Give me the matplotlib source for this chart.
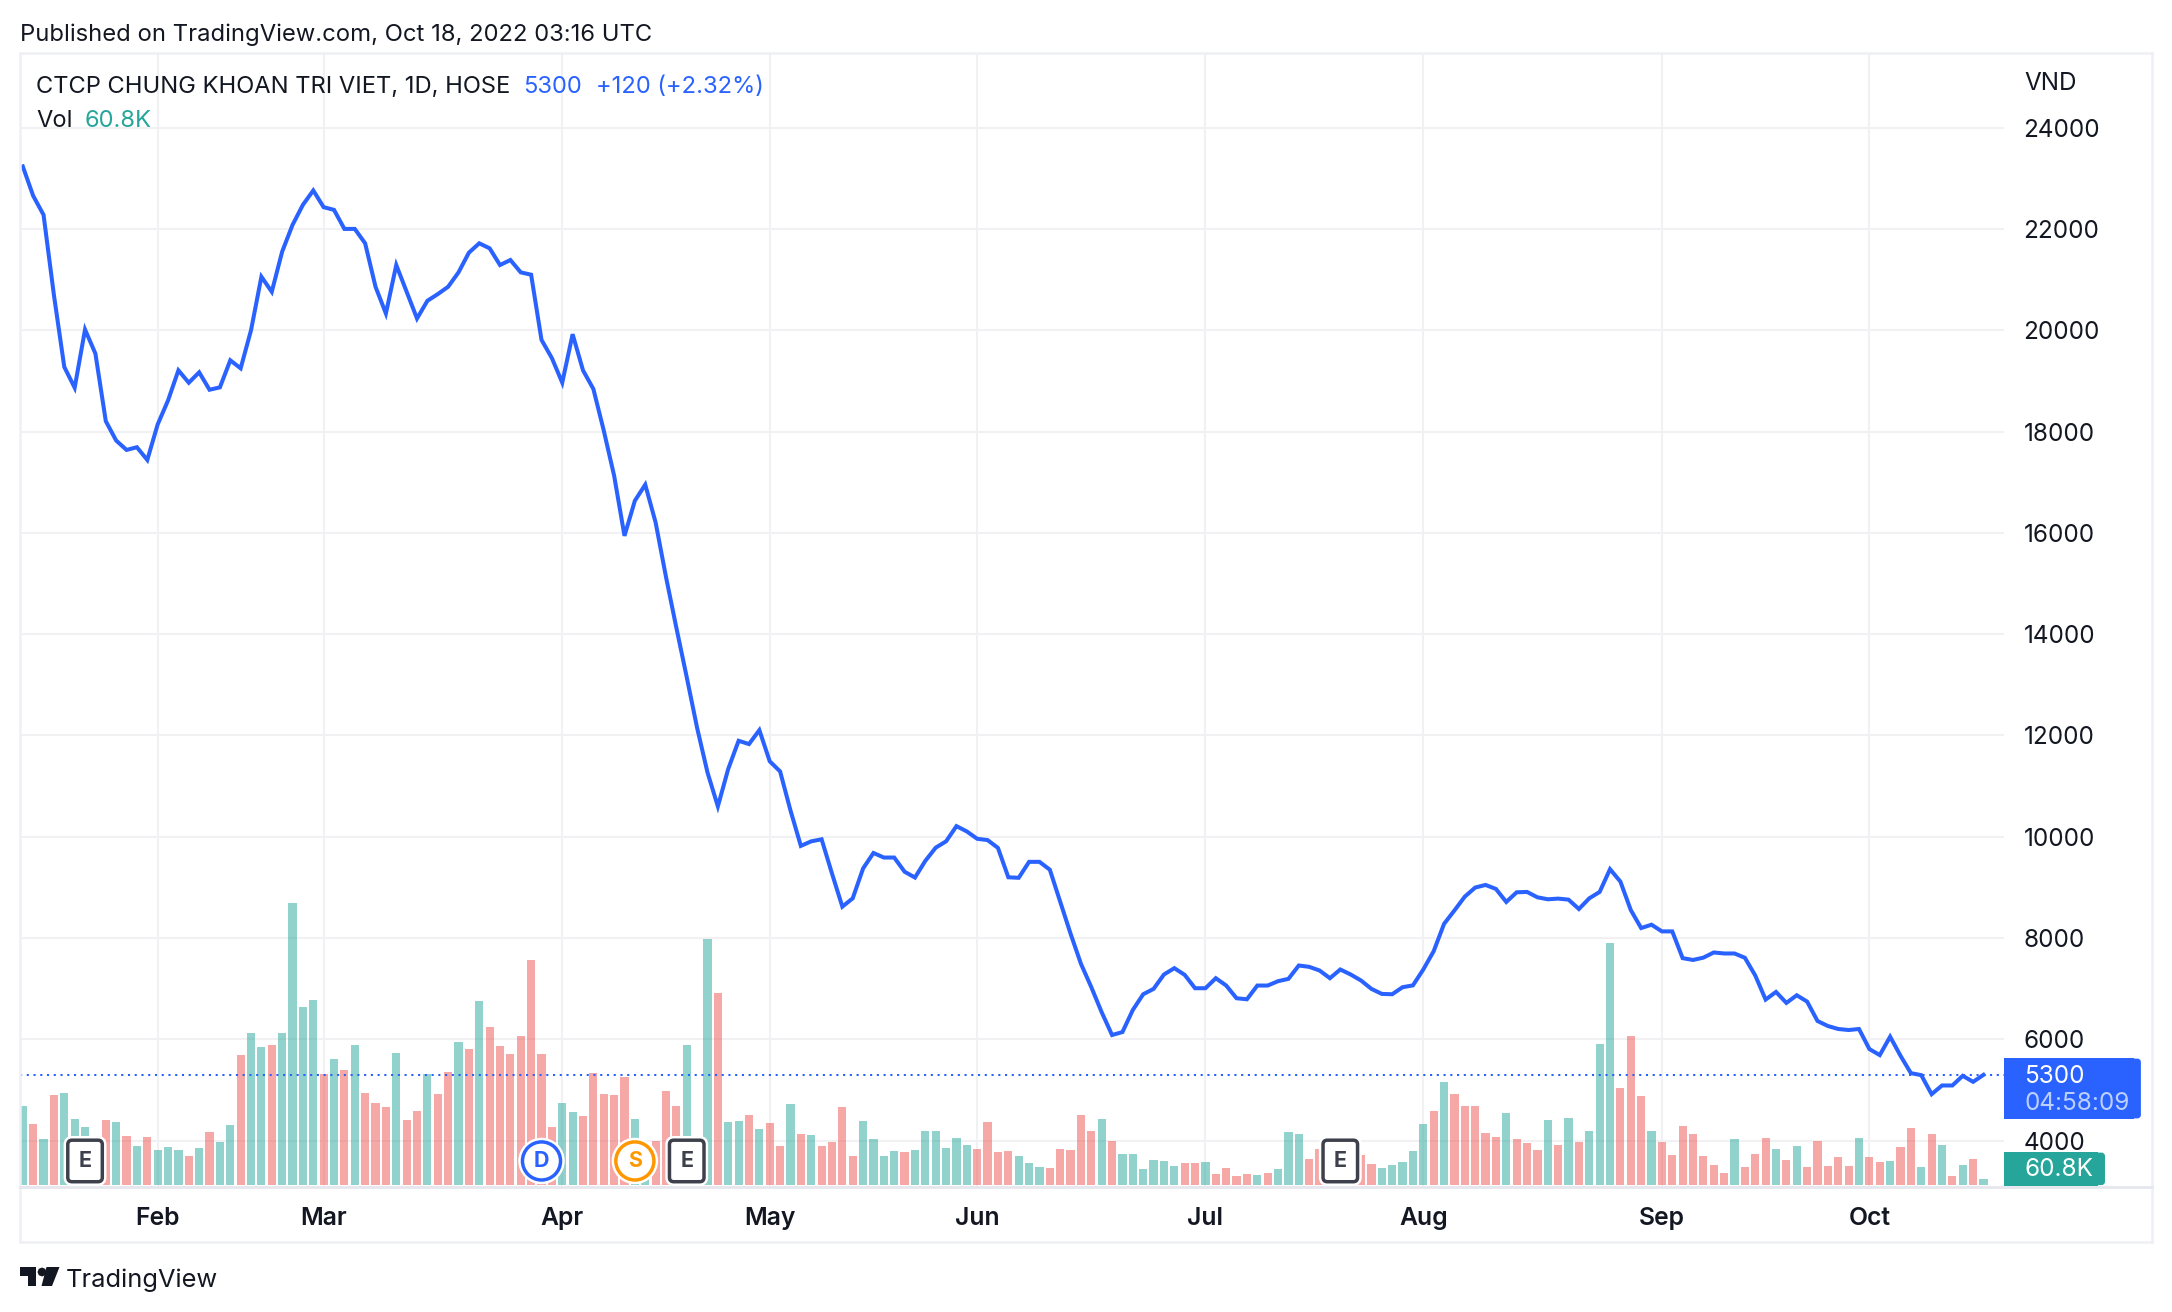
import matplotlib
matplotlib.use("Agg")
import matplotlib.pyplot as plt
from matplotlib.patches import FancyBboxPatch, Rectangle, Polygon
from matplotlib.lines import Line2D
import matplotlib.patheffects as pe

plt.rcParams['font.family'] = ['Inter', 'DejaVu Sans']

close = [23234,22653,22277,20693,19274,18865,20013,19538,18205,17822,17637,17690,17439,18140,18614,
         19208,18964,19169,18825,18872,19406,19248,20000,21056,20759,21551,22079,22475,22759,22429,
         22376,22000,22000,21716,20858,20330,21287,20759,20231,20581,20713,20858,21142,21531,21716,
         21617,21287,21386,21142,21096,19810,19450,18965,19921,19208,18840,18020,17129,15941,16634,
         16951,16205,15129,14126,13150,12150,11270,10600,11340,11895,11830,12105,11490,11290,10520,
         9820,9910,9950,9275,8620,8785,9375,9680,9590,9590,9310,9195,9525,9785,9910,
         10210,10105,9960,9935,9780,9200,9190,9505,9505,9350,8720,8086,7492,7030,6535,
         6086,6145,6581,6891,6997,7281,7406,7274,7010,7010,7208,7063,6812,6792,7063,
         7063,7149,7195,7459,7432,7360,7208,7380,7281,7162,6997,6898,6891,7030,7066,
         7380,7740,8280,8545,8818,8997,9049,8970,8713,8904,8911,8805,8766,8779,8759,
         8574,8785,8911,9360,9115,8554,8198,8264,8132,8132,7604,7568,7614,7716,7696,
         7696,7611,7261,6786,6937,6720,6871,6746,6363,6264,6205,6185,6205,5809,5690,
         6053,5677,5334,5294,4918,5090,5090,5281,5162,5300]

volume_k = [801,619,466,913,933,669,588,237,659,639,497,395,487,355,385,355,294,375,537,436,
            608,1318,1541,1399,1420,1541,2859,1805,1876,1126,1278,1166,1420,933,831,791,1338,659,750,1126,
            923,1146,1450,1379,1866,1602,1409,1328,1511,2282,1328,588,831,740,700,1136,923,913,1095,669,
            338,446,953,801,1420,203,2494,1947,639,649,710,568,629,395,821,517,507,395,436,791,
            294,649,466,294,345,335,355,548,548,375,477,406,365,639,335,345,294,223,183,172,
            365,355,710,548,669,446,314,314,162,254,243,193,223,223,233,112,172,91,112,101,
            122,162,537,517,264,365,203,135,169,304,213,172,203,233,345,619,750,1044,923,801,
            801,527,487,730,466,426,355,659,406,679,436,548,1430,2454,984,1511,902,548,436,304,
            598,517,294,203,122,466,183,314,477,365,254,395,183,446,193,284,193,477,284,233,
            243,385,578,183,517,406,91,203,264,60.8]

vol_dir = ['G','R','G','R','G','G','G','R','R','G','R','G','R','G','G','G','R','G','R','G',
           'G','R','G','G','R','G','G','G','G','R','G','R','G','R','R','R','G','R','R','G',
           'R','R','G','R','G','R','R','R','R','R','R','R','G','G','R','R','R','R','R','G',
           'G','R','R','R','G','G','G','R','G','G','R','G','R','R','G','R','G','R','R','R',
           'R','G','G','G','G','R','G','G','G','G','G','G','R','R','R','R','G','G','G','R',
           'R','R','R','R','G','R','G','G','G','G','G','G','R','R','G','R','R','R','R','G',
           'R','G','G','G','R','R','R','G','R','R','R','G','G','G','G','G','R','G','R','R',
           'R','R','R','G','R','R','R','G','R','G','R','G','G','G','R','R','R','G','R','R',
           'R','R','R','R','R','G','R','R','R','G','R','G','R','R','R','R','R','G','R','R',
           'G','R','R','G','R','G','R','G','R','G']

months = ["Feb", "Mar", "Apr", "May", "Jun", "Jul", "Aug", "Sep", "Oct"]
month_idx = [13, 29, 52, 72, 92, 114, 135, 158, 178]
price_ticks = [4000, 6000, 8000, 10000, 12000, 14000, 16000, 18000, 20000, 22000, 24000]
events = [(6, "E"), (50, "D"), (59, "S"), (64, "E"), (127, "E")]
last_price = 5300

W, H = 2172, 1312
fig = plt.figure(figsize=(W / 100, H / 100), dpi=100, facecolor='white')

def fx(x): return x / W
def fy(y): return 1 - y / H

L, R, T, B = 19.5, 2004.0, 53.0, 1186.0
rect = [fx(L), fy(B), fx(R - L), (B - T) / H]
step = 10.374
x0 = 22.8
xlim = ((L - x0) / step, (R - x0) / step)
per_px = 2000 / 101.3
ylim = (4000 - (B - 1140.7) * per_px, 24000 + (127.6 - T) * per_px)
vk = 60.8 / 6
vlim = (-(B - 1185) * vk, (1185 - T) * vk)

ax_g = fig.add_axes(rect, zorder=0)
ax_v = fig.add_axes(rect, zorder=1, sharex=ax_g)
ax = fig.add_axes(rect, zorder=2, sharex=ax_g)

grid_c = '#f1f1f4'
ax_g.set_xlim(*xlim)
ax_g.set_ylim(*ylim)
ax_g.set_yticks(price_ticks)
ax_g.set_yticklabels([str(p) for p in price_ticks], fontsize=17.5, color='#131722')
ax_g.yaxis.tick_right()
ax_g.set_xticks(month_idx)
ax_g.set_xticklabels(months, fontsize=17.8, fontweight='semibold', color='#131722')
ax_g.tick_params(axis='y', length=0, pad=14)
ax_g.tick_params(axis='x', length=0, pad=15)
ax_g.grid(True, color=grid_c, lw=1.5, zorder=0)
ax_g.set_axisbelow(True)
for s in ax_g.spines.values():
    s.set_visible(False)

colors = {'G': '#26a69a', 'R': '#ef5350'}
ax_v.bar(range(len(volume_k)), volume_k, width=0.79,
         color=[colors[c] for c in vol_dir], alpha=0.5, linewidth=0)
ax_v.set_ylim(*vlim)
ax_v.axis('off')

ax.plot(range(len(close)), close, color='#2962ff', lw=2.9, solid_joinstyle='miter', zorder=3)
ax.axhline(last_price, color='#2962ff', lw=1.45, dashes=(1.05, 2.3), dash_capstyle='butt', zorder=2)
ax.set_ylim(*ylim)
ax.axis('off')

def marker(i, s):
    col = {'E': '#3e404c', 'D': '#2962ff', 'S': '#ff9800'}[s]
    halo = [pe.Stroke(linewidth=6, foreground='white'), pe.Normal()]
    style = 'round,pad=0.5,rounding_size=0.2' if s == 'E' else 'circle,pad=0.42'
    ax.text(i, 3600, s, ha='center', va='center', fontsize=15.5, fontweight='bold',
            color=col, zorder=6, clip_on=False,
            bbox=dict(boxstyle=style, fc='white', ec=col, lw=2.5, path_effects=halo))

for i, s in events:
    marker(i, s)

frame_c = '#eff0f5'
for xs, ys, c, lw in [((L, 2152), (T, T), frame_c, 1.8), ((L, L), (T, 1241.7), frame_c, 1.8),
                      ((2152, 2152), (T, 1241.7), frame_c, 1.8), ((L, 2152), (1241.7, 1241.7), frame_c, 1.8),
                      ((L, 2152), (1186.8, 1186.8), '#e6e7ee', 2.0)]:
    fig.add_artist(Line2D([fx(x) for x in xs], [fy(y) for y in ys], color=c, lw=lw, zorder=5))

def box(x1, y1, x2, y2, c):
    fig.add_artist(Rectangle((fx(x1), fy(y2)), fx(x2 - x1 - 8), (y2 - y1) / H, fc=c, ec='none', zorder=7))
    fig.add_artist(FancyBboxPatch((fx(x2 - 20), fy(y2 - 2)), fx(18), (y2 - y1 - 4) / H,
                                  boxstyle='round,pad=0,rounding_size=0.001', fc=c, ec=c, lw=2,
                                  zorder=7, mutation_aspect=W / H))

box(2004, 1058, 2141.5, 1119, '#2962ff')
box(2004, 1152, 2105.6, 1185.7, '#26a69a')
fig.text(fx(2024), fy(1076.5), "5300", color='white', fontsize=17.5, va='center', zorder=8)
fig.text(fx(2024), fy(1103), "04:58:09", color='#bcd0ff', fontsize=17.5, va='center', zorder=8)
fig.text(fx(2024), fy(1169.5), "60.8K", color='white', fontsize=17.5, va='center', zorder=8)
fig.text(fx(2024), fy(83), "VND", color='#131722', fontsize=17.5, va='center')

fig.text(fx(20.4), fy(35), "Published on TradingView.com, Oct 18, 2022 03:16 UTC", fontsize=17.15, color='#131722', va='center')
fig.text(fx(36.5), fy(87), "CTCP CHUNG KHOAN TRI VIET, 1D, HOSE", fontsize=17.05, color='#131722', va='center')
fig.text(fx(523), fy(87), "5300", fontsize=17.05, color='#2962ff', va='center')
fig.text(fx(596), fy(87), "+120 (+2.32%)", fontsize=17.05, color='#2962ff', va='center')
fig.text(fx(36), fy(121), "Vol", fontsize=17.05, color='#131722', va='center')
fig.text(fx(85), fy(121), "60.8K", fontsize=17.05, color='#26a69a', va='center')

logo = '#131722'
T_shape = [(20, 1267), (36, 1267), (36, 1286), (28, 1286), (28, 1276), (20, 1276)]
slash = [(46.5, 1267), (59.5, 1267), (52, 1286), (41.5, 1286)]
for pts in (T_shape, slash):
    fig.add_artist(Polygon([(fx(x), fy(y)) for x, y in pts], closed=True, fc=logo, ec='none'))
fig.add_artist(Polygon([(fx(42 + dx), fy(1272 + dy)) for dx, dy in
                        [(0, -4.5), (3.2, -3.2), (4.5, 0), (3.2, 3.2), (0, 4.5), (-3.2, 3.2), (-4.5, 0), (-3.2, -3.2)]],
                       closed=True, fc=logo, ec='none'))
fig.text(fx(66), fy(1280.5), "TradingView", fontsize=18.3, color=logo, va='center')

fig.savefig("out.png", dpi=100, facecolor='white')
